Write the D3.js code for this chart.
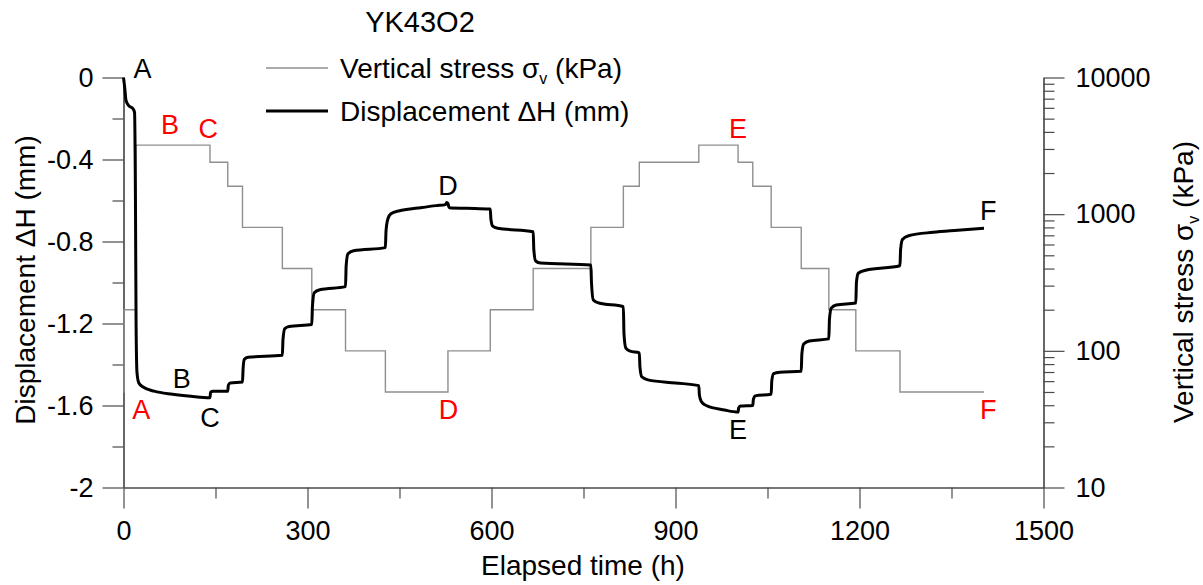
<!DOCTYPE html>
<html>
<head>
<meta charset="utf-8">
<script src="https://cdn.jsdelivr.net/npm/d3@7"></script>
<style>
  body { margin: 0; background: #fff; }
  svg { display: block; font-family: "Liberation Sans", Arial, sans-serif; }
</style>
</head>
<body>
<div id="chart"></div>
<script>
// stress steps (kPa), step-after
const stressTime = [0, 1, 20, 141, 170, 194, 259, 307, 362, 427, 529, 598, 668, 762, 815, 841, 938, 1002, 1026, 1056, 1105, 1150, 1194, 1266, 1403];
const stressKPa  = [50, 200, 3200, 2400, 1600, 800, 400, 200, 100, 50, 100, 200, 400, 800, 1600, 2400, 3200, 2400, 1600, 800, 400, 200, 100, 50, 50];

// displacement (mm)
const dispTime = [0, 2, 4, 8, 16, 18, 19.5, 20.5, 22, 25, 32, 50, 80, 110, 141,
  142, 146, 170, 171, 174, 194, 195, 197, 203, 259, 260, 263, 270, 307, 308, 311, 320, 362,
  363, 366, 375, 427, 428, 431, 436, 450, 480, 510, 525, 527, 529, 531, 560, 598,
  599, 602, 610, 668, 669, 672, 680, 762, 763, 766, 775, 815, 816, 819, 826, 841,
  842, 845, 855, 900, 938, 939, 942, 950, 980, 1002, 1003, 1006, 1026, 1027, 1030, 1056,
  1057, 1060, 1070, 1105, 1106, 1109, 1118, 1150, 1151, 1154, 1162, 1194, 1195, 1198, 1210, 1266,
  1267, 1270, 1280, 1320, 1360, 1403];
const dispMM = [0, -0.05, -0.11, -0.135, -0.155, -0.17, -0.6, -1.2, -1.44, -1.49, -1.51, -1.53, -1.545, -1.555, -1.562,
  -1.535, -1.53, -1.53, -1.50, -1.49, -1.485, -1.42, -1.375, -1.365, -1.355, -1.28, -1.225, -1.215, -1.205, -1.12, -1.05, -1.035, -1.02,
  -0.92, -0.86, -0.845, -0.83, -0.75, -0.69, -0.665, -0.65, -0.637, -0.625, -0.62, -0.61, -0.615, -0.635, -0.638, -0.642,
  -0.69, -0.725, -0.735, -0.752, -0.84, -0.895, -0.905, -0.915, -1.0, -1.085, -1.1, -1.118, -1.25, -1.32, -1.335, -1.343,
  -1.41, -1.46, -1.475, -1.49, -1.503, -1.55, -1.58, -1.6, -1.622, -1.632, -1.612, -1.603, -1.6, -1.57, -1.553, -1.545,
  -1.48, -1.445, -1.438, -1.433, -1.35, -1.3, -1.285, -1.275, -1.18, -1.125, -1.11, -1.1, -1.0, -0.955, -0.94, -0.918,
  -0.84, -0.79, -0.772, -0.755, -0.745, -0.735];

const xTicks = [0, 300, 600, 900, 1200, 1500];
const xMinor = [150, 450, 750, 1050, 1350];
const leftTicks = [0, -0.4, -0.8, -1.2, -1.6, -2];
const leftTickLabels = ['0', '-0.4', '-0.8', '-1.2', '-1.6', '-2'];
const leftMinor = [-0.2, -0.6, -1.0, -1.4, -1.8];
const rightTicks = [10, 100, 1000, 10000];

// point letters
const markText  = ['A', 'B', 'C', 'D', 'E', 'F', 'A', 'B', 'C', 'D', 'E', 'F'];
const markTime  = [31, 76, 138, 529, 1002, 1410, 29, 95, 141, 530, 1002, 1410];
const markDisp  = [0.04, -0.23, -0.25, -0.53, -0.25, -0.65, -1.62, -1.47, -1.66, -1.62, -1.72, -1.62];
const markColor = ['black', 'red', 'red', 'black', 'red', 'black', 'red', 'black', 'black', 'red', 'black', 'red'];

const fullWidth = 1203;
const fullHeight = 585;
const plot = { left: 123.5, right: 1043.5, top: 77.5, bottom: 487.5 };
const axisColor = '#4a4a4a';
const fontSize = 27;
const labelSize = 28;

const svg = d3.select('#chart')
  .append('svg')
    .attr('width', fullWidth)
    .attr('height', fullHeight);

const xScale = d3.scaleLinear().domain([0, 1500]).range([plot.left, plot.right]);
const yScale = d3.scaleLinear().domain([-2, 0]).range([plot.bottom, plot.top]);
const sScale = d3.scaleLog().domain([10, 10000]).range([plot.bottom, plot.top]);

function styleAxis(g) {
  g.select('.domain').attr('stroke', axisColor).attr('stroke-width', 1.2);
  g.selectAll('.tick line').attr('stroke', axisColor).attr('stroke-width', 1.2);
  g.selectAll('.tick text').attr('fill', 'black').style('font-size', fontSize + 'px');
}

// x axis
svg.append('g')
    .attr('transform', `translate(0, ${plot.bottom})`)
    .call(d3.axisBottom(xScale).tickValues(xMinor).tickSize(11).tickSizeOuter(0).tickFormat(''))
    .call(styleAxis);
svg.append('g')
    .attr('transform', `translate(0, ${plot.bottom})`)
    .call(d3.axisBottom(xScale).tickValues(xTicks).tickSize(21).tickSizeOuter(0).tickPadding(12).tickFormat(d3.format('d')))
    .call(styleAxis);

// left axis
svg.append('g')
    .attr('transform', `translate(${plot.left}, 0)`)
    .call(d3.axisLeft(yScale).tickValues(leftMinor).tickSize(11).tickSizeOuter(0).tickFormat(''))
    .call(styleAxis);
svg.append('g')
    .attr('transform', `translate(${plot.left}, 0)`)
    .call(d3.axisLeft(yScale).tickValues(leftTicks).tickSize(21).tickSizeOuter(0).tickPadding(9)
      .tickFormat((d, i) => leftTickLabels[i]))
    .call(styleAxis);

// right log axis
const rightMinor = [];
rightTicks.slice(0, 3).forEach(d => { for (let k = 2; k < 10; k++) rightMinor.push(d * k); });
svg.append('g')
    .attr('transform', `translate(${plot.right}, 0)`)
    .call(d3.axisRight(sScale).tickValues(rightMinor).tickSize(11).tickSizeOuter(0).tickFormat(''))
    .call(styleAxis);
svg.append('g')
    .attr('transform', `translate(${plot.right}, 0)`)
    .call(d3.axisRight(sScale).tickValues(rightTicks).tickSize(21).tickSizeOuter(0).tickPadding(11).tickFormat(d3.format('d')))
    .call(styleAxis);

// stress line
const stressData = stressTime.map((t, i) => [t, stressKPa[i]]);
svg.append('path')
    .datum(stressData)
    .attr('fill', 'none')
    .attr('stroke', '#8f8f8f')
    .attr('stroke-width', 1.4)
    .attr('d', d3.line().x(d => xScale(d[0])).y(d => sScale(d[1])).curve(d3.curveStepAfter));

// displacement line
const dispData = dispTime.map((t, i) => [t, dispMM[i]]);
svg.append('path')
    .datum(dispData)
    .attr('fill', 'none')
    .attr('stroke', 'black')
    .attr('stroke-width', 3)
    .attr('stroke-linejoin', 'round')
    .attr('d', d3.line().x(d => xScale(d[0])).y(d => yScale(d[1])).curve(d3.curveMonotoneX));

// letters
svg.append('g').selectAll('text')
  .data(markText)
  .join('text')
    .attr('x', (d, i) => xScale(markTime[i]))
    .attr('y', (d, i) => yScale(markDisp[i]))
    .attr('text-anchor', 'middle')
    .attr('dominant-baseline', 'central')
    .attr('fill', (d, i) => markColor[i])
    .style('font-size', fontSize + 'px')
    .text(d => d);

// title
svg.append('text')
    .attr('x', 420).attr('y', 32)
    .attr('text-anchor', 'middle')
    .style('font-size', '29px')
    .text('YK43O2');

// legend
const legend = svg.append('g');
legend.append('line').attr('x1', 266).attr('x2', 328).attr('y1', 68).attr('y2', 68)
    .attr('stroke', '#8f8f8f').attr('stroke-width', 1.4);
legend.append('line').attr('x1', 266).attr('x2', 328).attr('y1', 111).attr('y2', 111)
    .attr('stroke', 'black').attr('stroke-width', 3);
const l1 = legend.append('text').attr('x', 340).attr('y', 78).style('font-size', labelSize + 'px');
l1.append('tspan').text('Vertical stress σ');
l1.append('tspan').attr('dy', 6).style('font-size', '16px').text('v');
l1.append('tspan').attr('dy', -6).text(' (kPa)');
legend.append('text').attr('x', 340).attr('y', 121).style('font-size', labelSize + 'px')
    .text('Displacement ΔH (mm)');

// axis titles
svg.append('text')
    .attr('x', 583).attr('y', 575)
    .attr('text-anchor', 'middle')
    .style('font-size', labelSize + 'px')
    .text('Elapsed time (h)');

svg.append('text')
    .attr('transform', 'translate(35, 280) rotate(-90)')
    .attr('text-anchor', 'middle')
    .style('font-size', labelSize + 'px')
    .text('Displacement ΔH (mm)');

const rt = svg.append('text')
    .attr('transform', 'translate(1193, 282) rotate(-90)')
    .attr('text-anchor', 'middle')
    .style('font-size', labelSize + 'px');
rt.append('tspan').text('Vertical stress σ');
rt.append('tspan').attr('dy', 6).style('font-size', '16px').text('v');
rt.append('tspan').attr('dy', -6).text(' (kPa)');
</script>
</body>
</html>
